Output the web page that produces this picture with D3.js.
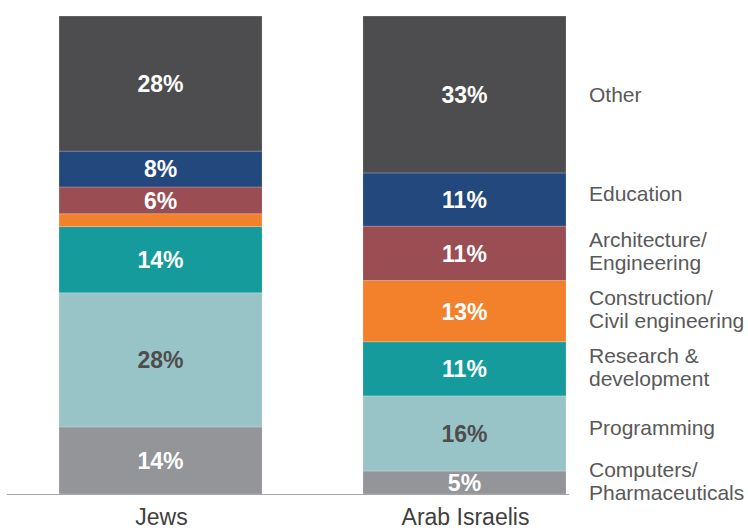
<!DOCTYPE html>
<html>
<head>
<meta charset="utf-8">
<script src="https://cdn.jsdelivr.net/npm/d3@7"></script>
<style>
  body { margin: 0; background: #fff; }
  text { font-family: 'Liberation Sans', Arial, sans-serif; }
</style>
</head>
<body>
<svg id="chart" width="748" height="531"></svg>
<script>
// categories bottom -> top
var fields = ['Computers/\nPharmaceuticals', 'Programming', 'Research &\ndevelopment',
  'Construction/\nCivil engineering', 'Architecture/\nEngineering', 'Education', 'Other']
var colors = ['#939598', '#99c4c7', '#159b9c', '#f3812b', '#9a4d52', '#23487e', '#4d4d4f']
var labelColors = ['#fff', '#4d4d4d', '#fff', '#fff', '#fff', '#fff', '#fff']

var groups = ['Jews', 'Arab Israelis']
// shares (%), same order as fields
var jews = [14.0, 28.0, 13.8, 2.7, 5.6, 7.5, 28.2]
var arabs = [4.8, 15.7, 11.3, 12.8, 11.4, 11.1, 32.8]

var rows = groups.map(function(g, i){
  var row = {group: g}
  var vals = i == 0 ? jews : arabs
  fields.forEach(function(f, j){ row[f] = vals[j] })
  return row
})

var svg = d3.select('#chart')
var width = 748, height = 531
var margin = {left: 59, right: 182, top: 16, bottom: 37}

var x = d3.scaleBand()
  .domain(groups)
  .range([margin.left, width - margin.right])
  .paddingInner(0.332)

var y = d3.scaleLinear()
  .domain([0, 1])
  .range([height - margin.bottom, margin.top])

var stack = d3.stack().keys(fields).offset(d3.stackOffsetExpand)
var series = stack(rows)

var layer = svg.selectAll('g.layer').data(series).join('g')
  .attr('class', 'layer')
  .attr('fill', function(d, i){ return colors[i] })

layer.selectAll('rect').data(function(d){ return d }).join('rect')
  .attr('x', function(d){ return x(d.data.group) })
  .attr('width', x.bandwidth())
  .attr('y', function(d){ return y(d[1]) })
  .attr('height', function(d){ return y(d[0]) - y(d[1]) })
  .attr('stroke', 'rgba(255,255,255,0.35)')
  .attr('stroke-width', 0.6)

// value labels
series.forEach(function(s, i){
  svg.append('g').selectAll('text').data(s).join('text')
    .filter(function(d){ return d.data[s.key] >= 4 })
    .attr('x', function(d){ return x(d.data.group) + x.bandwidth()/2 })
    .attr('y', function(d){ return (y(d[0]) + y(d[1]))/2 })
    .attr('dy', '0.36em')
    .attr('text-anchor', 'middle')
    .attr('font-size', 23)
    .attr('font-weight', 'bold')
    .attr('fill', labelColors[i])
    .text(function(d){ return Math.round(d.data[s.key]) + '%' })
})

// baseline
svg.append('line')
  .attr('x1', 7)
  .attr('x2', x.range()[1] + 3)
  .attr('y1', y(0) + 0.5)
  .attr('y2', y(0) + 0.5)
  .attr('stroke', '#a6a6a6')
  .attr('stroke-width', 1.2)

// category labels
svg.append('g').selectAll('text').data(groups).join('text')
  .attr('x', function(d){ return x(d) + x.bandwidth()/2 + 1 })
  .attr('y', 525)
  .attr('text-anchor', 'middle')
  .attr('font-size', 23)
  .attr('fill', '#404040')
  .text(function(d){ return d })

// legend, aligned with the Arab Israelis segments
var last = series.map(function(s){ return s[1] })
var legend = svg.append('g').selectAll('text').data(last).join('text')
  .attr('x', x.range()[1] + 23)
  .attr('y', function(d, i){ return (y(d[0]) + y(d[1]))/2 - (i == 6 ? 0 : (i == 1 || i == 5) ? 6 : 2) })
  .attr('font-size', 21)
  .attr('fill', '#595959')

legend.each(function(d, i){
  var lines = fields[i].split('\n')
  var sel = d3.select(this)
  lines.forEach(function(t, k){
    sel.append('tspan')
      .attr('x', x.range()[1] + 23)
      .attr('dy', k == 0 ? (0.36 - (lines.length - 1) * 0.55) + 'em' : '1.1em')
      .text(t)
  })
})
</script>
</body>
</html>
